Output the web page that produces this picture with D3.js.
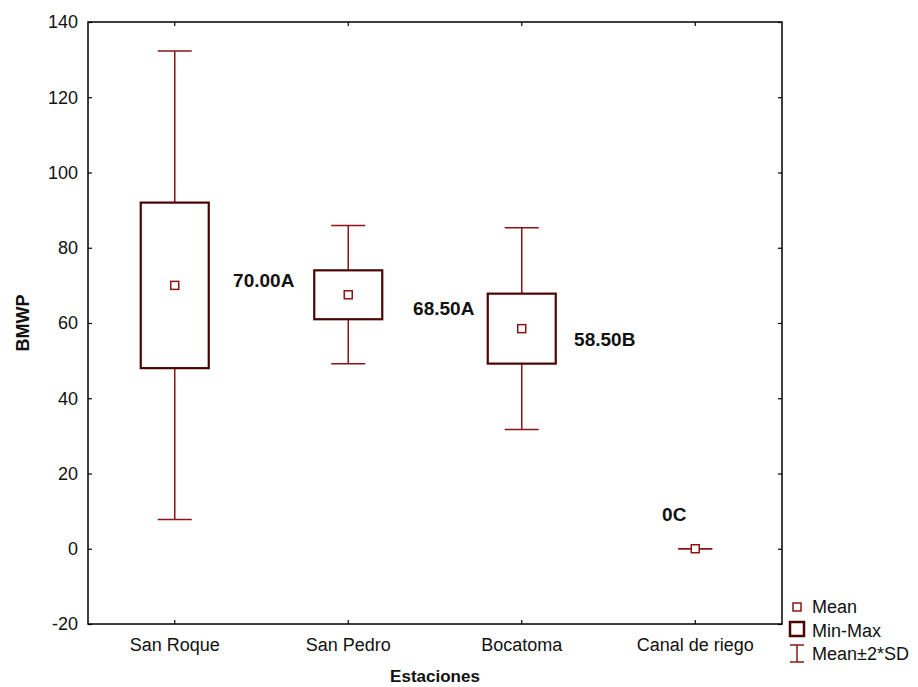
<!DOCTYPE html>
<html>
<head>
<meta charset="utf-8">
<script src="https://cdn.jsdelivr.net/npm/d3@7"></script>
<style>
  body { margin: 0; background: #fff; }
  text { font-family: Arial, "Liberation Sans", sans-serif; }
</style>
</head>
<body>
<svg id="chart" width="918" height="687"></svg>
<script>
// Data
var stations = ["San Roque", "San Pedro", "Bocatoma", "Canal de riego"];
var means    = [70.0, 67.5, 58.5, 0];
var mins     = [48.0, 61.0, 49.2, 0];
var maxs     = [92.0, 74.0, 67.8, 0];
var sdLow    = [7.8, 49.2, 31.7, 0];   // mean - 2*SD
var sdHigh   = [132.3, 85.9, 85.3, 0]; // mean + 2*SD

var yTicks = [-20, 0, 20, 40, 60, 80, 100, 120, 140];

// annotations (letters from the significance test)
var noteText    = ["70.00A", "68.50A", "58.50B", "0C"];
var noteStation = ["San Roque", "Bocatoma", "Bocatoma", "Canal de riego"];
var noteValue   = [69.7, 62.2, 53.8, 7.3];
var noteShift   = [89, -78, 83, -21];

var svg = d3.select("#chart"),
    margin = {left: 88, right: 136, top: 22, bottom: 63},
    width  = +svg.attr("width"),
    height = +svg.attr("height");

var x = d3.scaleBand()
    .domain(stations)
    .range([margin.left, width - margin.right]);

var y = d3.scaleLinear()
    .domain([-20, 140])
    .range([height - margin.bottom, margin.top]);

var whiskerCol = "#8b1414",
    boxCol     = "#4a0404";

var rows = stations.map(function (s, i) {
    return {name: s, mean: means[i], min: mins[i], max: maxs[i], lo: sdLow[i], hi: sdHigh[i]};
});

// Axes (ticks pointing inward)
svg.append("g")
    .attr("transform", "translate(" + margin.left + ",0)")
    .call(d3.axisLeft(y).tickValues(yTicks).tickSizeInner(-4).tickSizeOuter(0).tickPadding(10)
        .tickFormat(function (d) { return String(d); }))
    .call(function (g) { g.select(".domain").remove(); });

svg.append("g")
    .attr("transform", "translate(" + (width - margin.right) + ",0)")
    .call(d3.axisRight(y).tickValues(yTicks).tickSizeInner(-4).tickSizeOuter(0).tickFormat(""))
    .call(function (g) { g.select(".domain").remove(); });

svg.append("g")
    .attr("transform", "translate(0," + (height - margin.bottom) + ")")
    .call(d3.axisBottom(x).tickSizeInner(-4).tickSizeOuter(0).tickPadding(14))
    .call(function (g) { g.select(".domain").remove(); });

svg.append("g")
    .attr("transform", "translate(0," + margin.top + ")")
    .call(d3.axisTop(x).tickSizeInner(-4).tickSizeOuter(0).tickFormat(""))
    .call(function (g) { g.select(".domain").remove(); });

svg.selectAll(".tick text")
    .attr("font-size", "18px")
    .attr("fill", "#111");
svg.selectAll(".tick line").attr("stroke", "#000").attr("stroke-width", 1.2);

// Frame
svg.append("rect")
    .attr("x", margin.left)
    .attr("y", margin.top)
    .attr("width", width - margin.left - margin.right)
    .attr("height", height - margin.top - margin.bottom)
    .attr("fill", "none")
    .attr("stroke", "#000")
    .attr("stroke-width", 1.5);

var boxW = 68, capW = 34, meanS = 8;

var g = svg.append("g").selectAll("g")
    .data(rows)
    .enter().append("g")
    .attr("transform", function (d) { return "translate(" + (x(d.name) + x.bandwidth() / 2) + ",0)"; });

// whiskers: mean±2*SD
g.append("line")
    .attr("y1", function (d) { return y(d.lo); })
    .attr("y2", function (d) { return y(d.hi); })
    .attr("stroke", whiskerCol).attr("stroke-width", 1.5);
g.append("line")
    .attr("x1", -capW / 2).attr("x2", capW / 2)
    .attr("y1", function (d) { return y(d.hi); })
    .attr("y2", function (d) { return y(d.hi); })
    .attr("stroke", whiskerCol).attr("stroke-width", 1.5);
g.append("line")
    .attr("x1", -capW / 2).attr("x2", capW / 2)
    .attr("y1", function (d) { return y(d.lo); })
    .attr("y2", function (d) { return y(d.lo); })
    .attr("stroke", whiskerCol).attr("stroke-width", 1.5);

// boxes: min-max (skipped when flat)
g.filter(function (d) { return d.max > d.min; })
    .append("rect")
    .attr("x", -boxW / 2)
    .attr("width", boxW)
    .attr("y", function (d) { return y(d.max); })
    .attr("height", function (d) { return y(d.min) - y(d.max); })
    .attr("fill", "#fff")
    .attr("stroke", boxCol).attr("stroke-width", 2.2);

// mean markers
g.append("rect")
    .attr("x", -meanS / 2)
    .attr("y", function (d) { return y(d.mean) - meanS / 2; })
    .attr("width", meanS).attr("height", meanS)
    .attr("fill", "#fff")
    .attr("stroke", whiskerCol).attr("stroke-width", 1.5);

// annotations
noteText.forEach(function (t, i) {
    svg.append("text")
        .attr("x", x(noteStation[i]) + x.bandwidth() / 2 + noteShift[i])
        .attr("y", y(noteValue[i]))
        .attr("text-anchor", "middle")
        .attr("font-size", "19px")
        .attr("font-weight", "bold")
        .attr("fill", "#111")
        .text(t);
});

// Axis titles
svg.append("text")
    .attr("x", (margin.left + width - margin.right) / 2)
    .attr("y", 682)
    .attr("text-anchor", "middle")
    .attr("font-size", "17px")
    .attr("font-weight", "bold")
    .attr("fill", "#111")
    .text("Estaciones");

svg.append("text")
    .attr("transform", "translate(29," + ((margin.top + height - margin.bottom) / 2) + ") rotate(-90)")
    .attr("text-anchor", "middle")
    .attr("font-size", "18px")
    .attr("font-weight", "bold")
    .attr("fill", "#111")
    .text("BMWP");

// Legend
var lg = svg.append("g").attr("transform", "translate(797,0)");
lg.append("rect")
    .attr("x", -4).attr("y", 603).attr("width", 8).attr("height", 8)
    .attr("fill", "#fff").attr("stroke", whiskerCol).attr("stroke-width", 1.5);
lg.append("rect")
    .attr("x", -7).attr("y", 622).attr("width", 14).attr("height", 14)
    .attr("fill", "#fff").attr("stroke", boxCol).attr("stroke-width", 2.5);
lg.append("line").attr("y1", 645).attr("y2", 662)
    .attr("stroke", whiskerCol).attr("stroke-width", 1.5);
lg.append("line").attr("x1", -7).attr("x2", 7).attr("y1", 645).attr("y2", 645)
    .attr("stroke", whiskerCol).attr("stroke-width", 1.5);
lg.append("line").attr("x1", -7).attr("x2", 7).attr("y1", 662).attr("y2", 662)
    .attr("stroke", whiskerCol).attr("stroke-width", 1.5);

var legendText = ["Mean", "Min-Max", "Mean\u00b12*SD"];
lg.selectAll("text.lg")
    .data(legendText)
    .enter().append("text")
    .attr("class", "lg")
    .attr("x", 15)
    .attr("y", function (d, i) { return 613 + i * 23.5; })
    .attr("font-size", "18px")
    .attr("fill", "#111")
    .text(function (d) { return d; });
</script>
</body>
</html>
